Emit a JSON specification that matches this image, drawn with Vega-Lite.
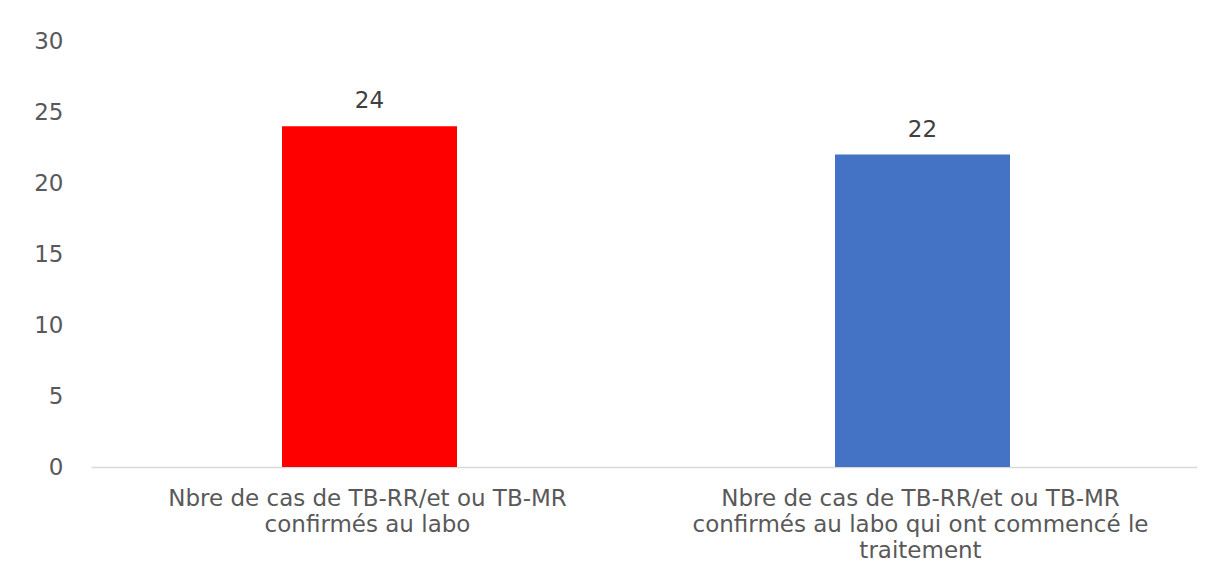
{
  "$schema": "https://vega.github.io/schema/vega-lite/v6.json",
  "width": 1106,
  "height": 426,
  "autosize": {"type": "none"},
  "padding": {"left": 91, "top": 41, "right": 33, "bottom": 113},
  "background": "white",
  "config": {
    "view": {"stroke": null},
    "font": "DejaVu Sans"
  },
  "data": {
    "values": [
      {"categorie": "Nbre de cas de TB-RR/et ou TB-MR confirmés au labo", "nombre": 24, "couleur": "a"},
      {"categorie": "Nbre de cas de TB-RR/et ou TB-MR confirmés au labo qui ont commencé le traitement", "nombre": 22, "couleur": "b"}
    ]
  },
  "encoding": {
    "x": {
      "field": "categorie",
      "type": "nominal",
      "sort": null,
      "scale": {"paddingInner": 0, "paddingOuter": 0},
      "axis": {
        "title": null,
        "labelAngle": 0,
        "ticks": false,
        "domainColor": "#D9D9D9",
        "domainWidth": 1.5,
        "labelColor": "#595959",
        "labelFontSize": 23,
        "labelFont": "DejaVu Sans",
        "labelLineHeight": 26,
        "labelPadding": 20,
        "labelLimit": 0,
        "labelBaseline": "top",
        "labelExpr": "datum.value == 'Nbre de cas de TB-RR/et ou TB-MR confirmés au labo' ? ['Nbre de cas de TB-RR/et ou TB-MR', 'confirmés au labo'] : ['Nbre de cas de TB-RR/et ou TB-MR', 'confirmés au labo qui ont commencé le', 'traitement']"
      }
    },
    "y": {
      "field": "nombre",
      "type": "quantitative",
      "scale": {"domain": [0, 30]},
      "axis": {
        "title": null,
        "values": [0, 5, 10, 15, 20, 25, 30],
        "domain": false,
        "ticks": false,
        "grid": false,
        "labelColor": "#595959",
        "labelFontSize": 23,
        "labelFont": "DejaVu Sans",
        "labelPadding": 28
      }
    }
  },
  "layer": [
    {
      "mark": {"type": "bar", "size": 175, "xOffset": 2},
      "encoding": {
        "color": {
          "field": "couleur",
          "type": "nominal",
          "scale": {"domain": ["a", "b"], "range": ["#FF0000", "#4472C4"]},
          "legend": null
        }
      }
    },
    {
      "mark": {"type": "text", "baseline": "bottom", "dy": -13, "fontSize": 23, "color": "#404040", "font": "DejaVu Sans", "xOffset": 2},
      "encoding": {
        "text": {"field": "nombre", "type": "quantitative"}
      }
    }
  ]
}
